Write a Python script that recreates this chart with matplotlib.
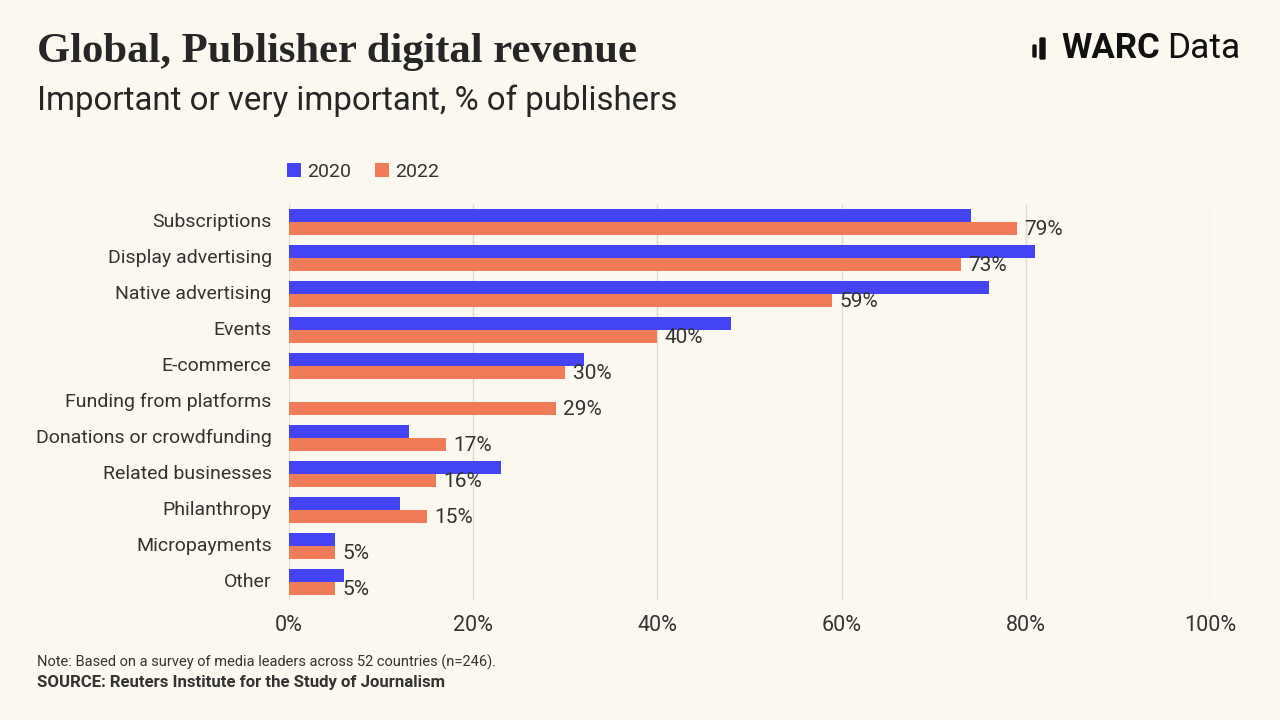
import matplotlib
matplotlib.use("Agg")
import matplotlib.pyplot as plt
import matplotlib.patches as mpatches
import matplotlib.transforms as mtransforms
import numpy as np

BG = "#FBF8EF"
BLUE = "#4444F4"
ORANGE = "#F27B57"
TEXT = "#333333"

categories = [
    "Subscriptions", "Display advertising", "Native advertising", "Events",
    "E-commerce", "Funding from platforms", "Donations or crowdfunding",
    "Related businesses", "Philanthropy", "Micropayments", "Other",
]
values_2020 = [74, 81, 76, 48, 32, 0, 13, 23, 12, 5, 6]
values_2022 = [79, 73, 59, 40, 30, 29, 17, 16, 15, 5, 5]
x_ticks = [0, 20, 40, 60, 80, 100]

plt.rcParams["font.family"] = ["Roboto", "DejaVu Sans"]

fig = plt.figure(figsize=(12.8, 7.2), dpi=100, facecolor=BG)
ax = fig.add_axes([289 / 1280, 1 - 600 / 720, (1210 - 289) / 1280, (600 - 204) / 720])
ax.set_facecolor(BG)

y = np.arange(len(categories))
h = 0.36
ax.barh(y - h / 2, values_2020, height=h, color=BLUE, zorder=3, label="2020")
ax.barh(y + h / 2, values_2022, height=h, color=ORANGE, zorder=3, label="2022")

for yi, v in zip(y, values_2022):
    ax.text(v + 0.8, yi + h / 2 + 0.02, f"{v}%", va="center", ha="left",
            fontsize=15, color=TEXT, zorder=4)

ax.set_xlim(0, 100)
ax.set_ylim(len(categories) - 0.5, -0.5)
ax.set_xticks(x_ticks)
ax.set_xticklabels([f"{t}%" for t in x_ticks], fontsize=15.5, color=TEXT)
ax.set_yticks(y)
ax.set_yticklabels(categories, fontsize=14, color=TEXT)
ax.tick_params(axis="both", length=0)
ax.tick_params(axis="x", pad=11)
ax.tick_params(axis="y", pad=12.5)
# nudge category labels slightly upward, as in the original
shift = mtransforms.ScaledTranslation(0, 2 / 100, fig.dpi_scale_trans)
for lbl in ax.get_yticklabels():
    lbl.set_transform(lbl.get_transform() + shift)
ax.grid(axis="x", color="#DEDCD4", linewidth=1, zorder=0)
for s in ax.spines.values():
    s.set_visible(False)

# legend
leg = ax.legend(loc="lower left", bbox_to_anchor=(-0.021, 1.015), ncol=2, frameon=False,
                fontsize=14, handlelength=0.7, handleheight=0.7, handletextpad=0.35,
                columnspacing=1.2, labelcolor=TEXT)

# titles
fig.text(37 / 1280, 1 - 52 / 720, "Global, Publisher digital revenue", fontsize=30.7,
         fontweight="bold", family="Liberation Serif", color="#262626", va="center")
fig.text(37 / 1280, 1 - 101 / 720, "Important or very important, % of publishers",
         fontsize=23.8, color="#262626", va="center")

# logo
fig.patches.append(mpatches.FancyBboxPatch((1033 / 1280, 1 - 57 / 720), 3 / 1280, 12 / 720,
                                           boxstyle="round,pad=0,rounding_size=0.001",
                                           transform=fig.transFigure, color="#111111"))
fig.patches.append(mpatches.FancyBboxPatch((1040 / 1280, 1 - 59 / 720), 5 / 1280, 21 / 720,
                                           boxstyle="round,pad=0,rounding_size=0.001",
                                           transform=fig.transFigure, color="#111111"))
fig.text(1061 / 1280, 1 - 48 / 720, "WARC", fontsize=25, fontweight="bold",
         color="#111111", va="center")
fig.text(1167 / 1280, 1 - 48 / 720, "Data", fontsize=25.5, color="#111111", va="center")

# footnotes
fig.text(37 / 1280, 1 - 662 / 720,
         "Note: Based on a survey of media leaders across 52 countries (n=246).",
         fontsize=10.5, color=TEXT, va="center")
fig.text(37 / 1280, 1 - 682 / 720, "SOURCE: Reuters Institute for the Study of Journalism",
         fontsize=12.1, fontweight="bold", color=TEXT, va="center")

fig.savefig("out.png", dpi=100, facecolor=BG)
